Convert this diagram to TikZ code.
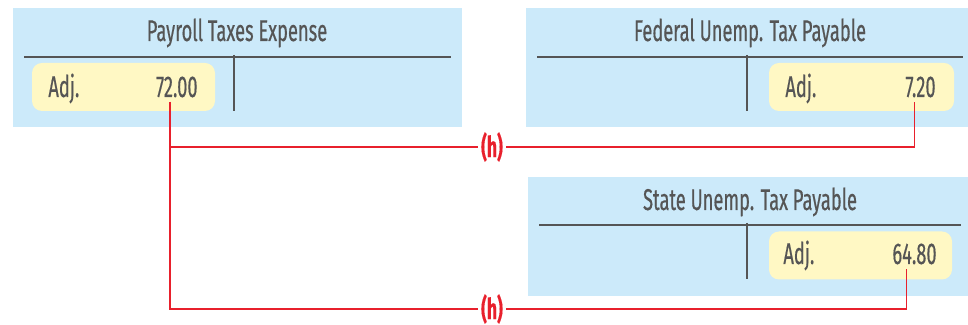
\documentclass[tikz,border=0pt]{standalone}
\usepackage{fontspec}
\setmainfont{Fira Sans}[FakeStretch=0.61,FakeBold=0.4]
\definecolor{AcctBlue}{RGB}{204,234,250}
\definecolor{EntryYellow}{RGB}{255,248,196}
\definecolor{InkGray}{RGB}{85,85,85}
\definecolor{RefRed}{RGB}{232,32,44}
\usetikzlibrary{positioning,calc}

\begin{document}
\begin{tikzpicture}[x=0.5pt,y=-0.5pt,font=\fontsize{15}{18}\selectfont,
  tline/.style={InkGray,line width=1pt},
  entry/.style={fill=EntryYellow,rounded corners=5pt,minimum height=24pt,inner sep=0pt},
  txt/.style={text=InkGray,inner sep=0pt},
  link/.style={RefRed,line width=0.8pt},
  refmark/.style={text=RefRed,font=\fontsize{14.5}{17}\selectfont\bfseries,inner sep=1.5pt}]
\useasboundingbox (0,0) rectangle (968,325);
\fill[AcctBlue] (13,8) rectangle (462,127);
\fill[AcctBlue] (526,8) rectangle (968,127);
\fill[AcctBlue] (528,177) rectangle (968,296);

\node[txt,anchor=base] (t1) at (237,41) {Payroll Taxes Expense};
\node[txt,anchor=base] (t2) at (750,41) {Federal Unemp. Tax Payable};
\node[txt,anchor=base] (t3) at (750,210) {State Unemp. Tax Payable};

\draw[tline] (24,57) -- (451,57) (234,55) -- (234,111);
\draw[tline] (537,57) -- (963,57) (747,55) -- (747,111);
\draw[tline] (539,225) -- (961,225) (747,223) -- (747,279);

\node[entry,minimum width=91.5pt] (e1) at (123.5,87) {};
\node[entry,minimum width=92.5pt] (e2) at (861.5,87) {};
\node[entry,minimum width=91.5pt] (e3) at (860.5,255.5) {};

\node[txt,anchor=base west] (j1) at (48,97) {Adj.};
\node[txt,anchor=base east] (a1) at (198,97) {72.00};
\node[txt,anchor=base west] (j2) at (785,97) {Adj.};
\node[txt,anchor=base east] (a2) at (936,97) {7.20};
\node[txt,anchor=base west] (j3) at (783,264) {Adj.};
\node[txt,anchor=base east] (a3) at (937,264) {64.80};

\node[refmark] (h1) at (492,147) {(h)};
\node[refmark] (h2) at (492,309) {(h)};

\coordinate (d1) at ($(a1.south)+(-7,4)$);
\draw[link] (d1) |- (h1.west);
\draw[link] (d1) |- (h2.west);
\draw[link] (h1.east) -| ($(a2.south)+(-6,4)$);
\draw[link] (h2.east) -| ($(a3.south)+(-8,4)$);
\end{tikzpicture}
\end{document}
